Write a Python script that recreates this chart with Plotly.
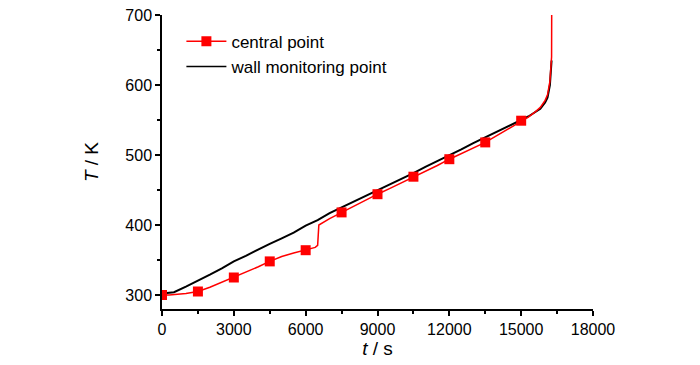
import plotly.graph_objects as go

# wall monitoring point (black)
wall_t = [0, 500, 1000, 1500, 2000, 2500, 3000, 3500, 4000, 4500, 5000, 5500, 6000,
          6500, 7000, 7500, 8000, 8500, 9000, 9500, 10000, 10500, 11000, 11500, 12000,
          12500, 13000, 13500, 14000, 14500, 15000, 15300, 15600, 15800, 16000, 16100,
          16200, 16250, 16270]
wall_T = [302, 304, 312, 320, 329, 338, 348, 356, 365, 373, 381, 389, 399,
          407, 417, 425, 433, 441, 450, 458, 466, 474, 483, 491, 500,
          508, 517, 525, 533, 541, 550, 555, 561, 566, 575, 582,
          600, 620, 635]

# central point (red) line
cen_t = [0, 300, 1000, 1500, 2000, 2500, 3000, 3500, 4000, 4500, 5000, 5500, 6000,
         6400, 6500, 6550, 7000, 7500, 8000, 8500, 9000, 9500, 10000, 10500, 11000,
         11500, 12000, 12500, 13000, 13500, 14000, 14500, 15000, 15300, 15600, 15800,
         16000, 16100, 16200, 16250, 16270, 16275]
cen_T = [300, 300, 302, 305, 311, 318, 325, 332, 340, 348, 355, 360, 364,
         368, 371, 400, 409, 418, 427, 436, 444, 452, 460, 469, 477,
         485, 494, 502, 510, 518, 528, 538, 549, 554, 562, 568,
         578, 586, 605, 630, 640, 705]

# central point markers
mk_t = [0, 1500, 3000, 4500, 6000, 7500, 9000, 10500, 12000, 13500, 15000]
mk_T = [300, 305, 325, 348, 364, 418, 444, 469, 494, 518, 549]

x_ticks = [0, 3000, 6000, 9000, 12000, 15000, 18000]
y_ticks = [300, 400, 500, 600, 700]

RED = "#ff0000"
FONT = "Liberation Sans, Arial, sans-serif"

fig = go.Figure()
fig.add_trace(go.Scatter(x=wall_t, y=wall_T, mode="lines",
                         line=dict(color="black", width=2), showlegend=False))
fig.add_trace(go.Scatter(x=cen_t, y=cen_T, mode="lines",
                         line=dict(color=RED, width=1.5), showlegend=False))
fig.add_trace(go.Scatter(x=mk_t, y=mk_T, mode="markers",
                         marker=dict(symbol="square", size=10, color=RED),
                         showlegend=False))
# legend entries
fig.add_trace(go.Scatter(x=[None], y=[None], mode="lines+markers", name="central point",
                         line=dict(color=RED, width=1.5),
                         marker=dict(symbol="square", size=10, color=RED)))
fig.add_trace(go.Scatter(x=[None], y=[None], mode="lines", name="wall monitoring point",
                         line=dict(color="black", width=1.5)))

fig.update_layout(
    width=700, height=365,
    margin=dict(l=162, r=107, t=15, b=56, autoexpand=False),
    paper_bgcolor="white", plot_bgcolor="white",
    font=dict(family=FONT, size=16, color="black"),
    legend=dict(x=0.045, y=0.97, xanchor="left", yanchor="top",
                bgcolor="rgba(0,0,0,0)", font=dict(size=17),
                tracegroupgap=0, itemwidth=40),
)
fig.update_xaxes(
    range=[0, 18000], tickvals=x_ticks, ticktext=[str(v) for v in x_ticks],
    automargin=False,
    showgrid=False, zeroline=False, showline=True, linecolor="black", linewidth=1.5,
    ticks="outside", ticklen=5, tickwidth=1.5, tickcolor="black",
    minor=dict(dtick=1500, tick0=0, ticks="outside", ticklen=3, tickwidth=1.5, tickcolor="black"),
    title=dict(text="<i>t</i> / s", standoff=5),
)
fig.update_yaxes(
    range=[280, 700], tickvals=y_ticks, ticktext=[str(v) for v in y_ticks],
    automargin=False, ticklabeloverflow="allow",
    showgrid=False, zeroline=False, showline=True, linecolor="black", linewidth=1.5,
    ticks="outside", ticklen=5, tickwidth=1.5, tickcolor="black",
    minor=dict(dtick=50, tick0=300, ticks="outside", ticklen=3, tickwidth=1.5, tickcolor="black"),
    title=dict(text="<i>T</i> / K", standoff=22),
)

fig.write_html("out.html", config={"displayModeBar": False},
               post_script="document.body.style.margin='0';document.body.style.overflow='hidden';")
